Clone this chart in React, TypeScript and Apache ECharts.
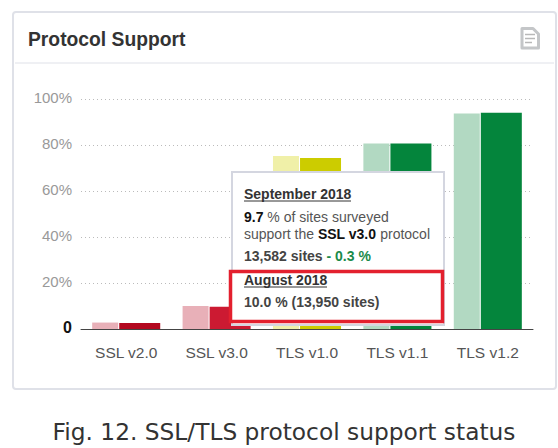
import React, { useEffect, useRef } from "react";
import * as echarts from "echarts";

const categories = ["SSL v2.0", "SSL v3.0", "TLS v1.0", "TLS v1.1", "TLS v1.2"];
const previous = [2.8, 10.0, 75.2, 80.6, 93.7];
const current = [2.6, 9.7, 74.3, 80.6, 94.0];
const lightColors = ["#e8b0b8", "#e8b0b8", "#f0f0a8", "#b2d9c2", "#b2d9c2"];
const darkColors = ["#b3081f", "#cc1a32", "#cccc00", "#04853c", "#04853c"];

const FONT = "'Liberation Sans', Arial, sans-serif";

export default function App() {
  const ref = useRef<HTMLDivElement>(null);
  useEffect(() => {
    document.body.style.margin = "0";
    const chart = echarts.init(ref.current!, undefined, { renderer: "svg" });
    const t = (x: number, y: number, text: string, fontSize: number, fontWeight: any, fill: string, extra: any = {}) => ({
      type: "text", x, y, z: 30,
      style: { text, fontSize, fontWeight, fill, fontFamily: FONT, textVerticalAlign: "middle", verticalAlign: "middle", ...extra },
    });
    chart.setOption({
      animation: false,
      backgroundColor: "#fff",
      grid: { left: 81, right: 25, top: 99, height: 230 },
      xAxis: {
        type: "category",
        data: categories,
        axisTick: { show: false },
        axisLine: { lineStyle: { color: "#444", width: 1 } },
        axisLabel: { color: "#555", fontSize: 15.5, fontFamily: FONT, margin: 15 },
      },
      yAxis: {
        type: "value",
        min: 0,
        max: 100,
        interval: 20,
        axisLine: { show: false },
        axisTick: { show: false },
        splitLine: { lineStyle: { type: [1, 3], color: "#bbb", width: 1 } },
        axisLabel: {
          fontFamily: FONT,
          margin: 9,
          formatter: (v: number) => (v === 0 ? "{z|0}" : `{p|${v}%}`),
          rich: {
            z: { fontSize: 16, fontWeight: "bold", color: "#111", fontFamily: FONT, padding: [0, 0, 4, 0] },
            p: { fontSize: 15, color: "#999", fontFamily: FONT, padding: [0, 0, 3, 0] },
          },
        },
      },
      series: [
        {
          type: "bar",
          data: previous.map((v, i) => ({ value: v, itemStyle: { color: lightColors[i] } })),
          barWidth: 26,
          barGap: "4%",
        },
        {
          type: "bar",
          data: current.map((v, i) => ({ value: v, itemStyle: { color: darkColors[i] } })),
          barWidth: 41,
        },
      ],
      graphic: [
        { type: "rect", z: 1, shape: { x: 13, y: 12, width: 543, height: 377, r: 3 }, style: { fill: "none", stroke: "#dfe1e8", lineWidth: 2 }, silent: true },
        { type: "line", z: 1, shape: { x1: 15, y1: 63, x2: 554, y2: 63 }, style: { stroke: "#dfe1e8", lineWidth: 1 } },
        t(28, 39, "Protocol Support", 19.3, "bold", "#333"),
        // document icon
        { type: "polygon", z: 20, shape: { points: [[522, 28.5], [533, 28.5], [538.5, 34], [538.5, 48], [522, 48]] }, style: { fill: "none", stroke: "#c4c6c8", lineWidth: 3, lineJoin: "round" } },
        { type: "line", z: 20, shape: { x1: 525, y1: 34.5, x2: 535, y2: 34.5 }, style: { stroke: "#b8b8b8", lineWidth: 1.5 } },
        { type: "line", z: 20, shape: { x1: 525, y1: 38.5, x2: 535, y2: 38.5 }, style: { stroke: "#b8b8b8", lineWidth: 1.5 } },
        { type: "line", z: 20, shape: { x1: 525, y1: 42.5, x2: 532, y2: 42.5 }, style: { stroke: "#b8b8b8", lineWidth: 1.5 } },
        // tooltip box
        { type: "rect", z: 20, shape: { x: 232, y: 172, width: 212, height: 153 }, style: { fill: "#fff", stroke: "#d4d6e0", lineWidth: 2 } },
        t(244, 194, "September 2018", 14, "bold", "#333"),
        { type: "line", z: 30, shape: { x1: 244, y1: 201, x2: 351, y2: 201 }, style: { stroke: "#333", lineWidth: 1 } },
        {
          type: "text", x: 244, y: 217, z: 30,
          style: {
            text: "{b|9.7} % of sites surveyed",
            fontSize: 14, fill: "#555", fontFamily: FONT, verticalAlign: "middle",
            rich: { b: { fontWeight: "bold", fontSize: 14, fill: "#111", fontFamily: FONT } },
          },
        },
        {
          type: "text", x: 244, y: 234, z: 30,
          style: {
            text: "support the {b|SSL v3.0} protocol",
            fontSize: 14, fill: "#555", fontFamily: FONT, verticalAlign: "middle",
            rich: { b: { fontWeight: "bold", fontSize: 14, fill: "#111", fontFamily: FONT } },
          },
        },
        {
          type: "text", x: 244, y: 256, z: 30,
          style: {
            text: "13,582 sites {g|- 0.3 %}",
            fontSize: 14, fontWeight: "bold", fill: "#444", fontFamily: FONT, verticalAlign: "middle",
            rich: { g: { fontWeight: "bold", fontSize: 14, fill: "#1a8a4a", fontFamily: FONT } },
          },
        },
        // red highlight box
        { type: "rect", z: 25, shape: { x: 230.5, y: 271.5, width: 212, height: 50 }, style: { fill: "#fff", stroke: "#e3202e", lineWidth: 3.5 } },
        t(244, 280, "August 2018", 14, "bold", "#333"),
        { type: "line", z: 30, shape: { x1: 244, y1: 287, x2: 327, y2: 287 }, style: { stroke: "#333", lineWidth: 1 } },
        t(244, 302, "10.0 % (13,950 sites)", 14, "bold", "#444"),
        // caption
        {
          type: "text", x: 284, y: 431, z: 30,
          style: {
            text: "Fig. 12. SSL/TLS protocol support status",
            fontSize: 23.3, fill: "#333", fontFamily: "'DejaVu Sans', sans-serif",
            align: "center", verticalAlign: "middle", textAlign: "center", textVerticalAlign: "middle",
          },
        },
      ],
    });
    return () => chart.dispose();
  }, []);
  return <div ref={ref} style={{ width: 558, height: 448 }} />;
}
